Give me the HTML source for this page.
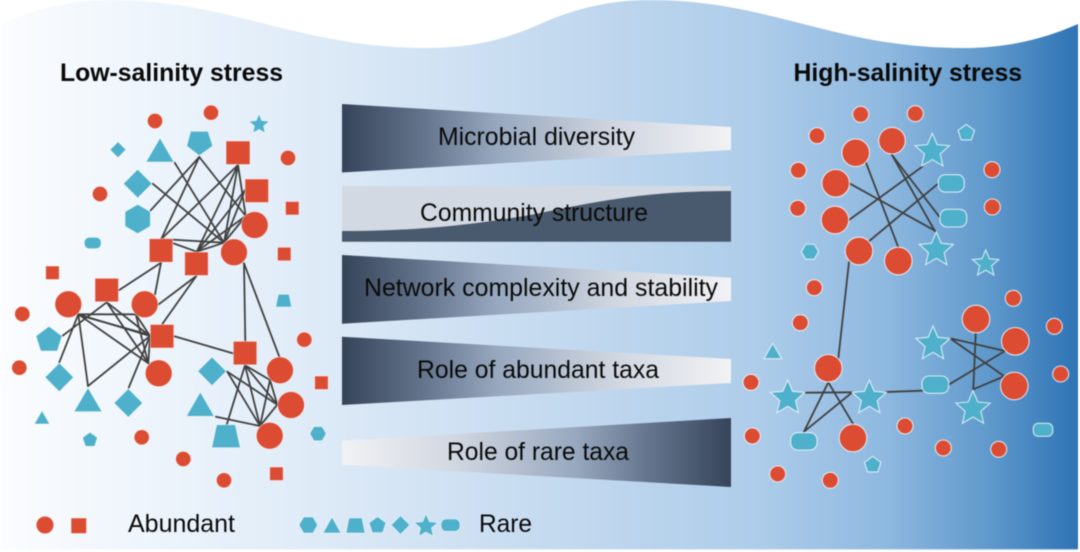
<!DOCTYPE html>
<html><head><meta charset="utf-8"><title>Salinity stress diagram</title>
<style>
html,body{margin:0;padding:0;background:#fff;width:1080px;height:552px;overflow:hidden}
svg{display:block;filter:blur(.4px)}
text{font-family:"Liberation Sans",sans-serif;font-size:24.6px;fill:#0a0a0a}
.r{fill:#dc4c33}.t{fill:#4eb0ca}
.L{stroke:#fff;stroke-opacity:.6;stroke-width:.8}
.R{stroke:#eef5fb;stroke-opacity:.85;stroke-width:1.1}
.ln line{stroke:#404040;stroke-width:1.8;stroke-linecap:round}
</style></head><body>
<svg width="1080" height="552" viewBox="0 0 1080 552" xmlns="http://www.w3.org/2000/svg">
<defs>
<linearGradient id="bg" x1="0" x2="1" y1="0" y2="0">
<stop offset="0" stop-color="#fbfdff"/><stop offset=".25" stop-color="#e3eef9"/><stop offset=".5" stop-color="#c6dbf0"/><stop offset=".7" stop-color="#aecdea"/><stop offset=".82" stop-color="#8fb9e0"/><stop offset=".92" stop-color="#5e98cb"/><stop offset="1" stop-color="#2e73b5"/>
</linearGradient>
<linearGradient id="dl" x1="0" x2="1" y1="0" y2="0">
<stop offset="0" stop-color="#36445a"/><stop offset=".22" stop-color="#66778f"/><stop offset=".4" stop-color="#97a8bf"/><stop offset=".7" stop-color="#d0d6e0"/><stop offset="1" stop-color="#f1f2f4"/>
</linearGradient>
<linearGradient id="ld" x1="0" x2="1" y1="0" y2="0">
<stop offset="0" stop-color="#f1f2f4"/><stop offset=".3" stop-color="#d0d6e0"/><stop offset=".6" stop-color="#97a8bf"/><stop offset=".78" stop-color="#66778f"/><stop offset="1" stop-color="#36445a"/>
</linearGradient>
<polygon id="star" vector-effect="non-scaling-stroke" points="0,-1 .27,-.37 .951,-.309 .437,.142 .588,.809 0,.46 -.588,.809 -.437,.142 -.951,-.309 -.27,-.37"/>
<polygon id="pent" vector-effect="non-scaling-stroke" points="0,-1 .951,-.309 .588,.809 -.588,.809 -.951,-.309"/>
<polygon id="hexf" vector-effect="non-scaling-stroke" points="1,0 .5,.866 -.5,.866 -1,0 -.5,-.866 .5,-.866"/>
<polygon id="hexp" vector-effect="non-scaling-stroke" points="0,-1 .866,-.5 .866,.5 0,1 -.866,.5 -.866,-.5"/>
<polygon id="dia" vector-effect="non-scaling-stroke" points="0,-1 1,0 0,1 -1,0"/>
</defs>
<rect width="1080" height="552" fill="#fff"/>
<path d="M0 24 C36 8 72 0 110 0 C230 0 300 48 427 48 C470 48 505 40 540 24 C576 8 612 0 650 0 C770 0 835 48 962 48 C1005 48 1042 40 1078 24 L1078 550 L0 550 Z" fill="url(#bg)"/>
<rect x="0" y="549" width="1080" height="3" fill="#fff" fill-opacity=".6"/>

<text x="60" y="81" style="font-weight:bold" textLength="223" lengthAdjust="spacingAndGlyphs">Low-salinity stress</text>
<text x="793.5" y="81" style="font-weight:bold" textLength="228.5" lengthAdjust="spacingAndGlyphs">High-salinity stress</text>

<!-- bars -->
<polygon points="342,104 731,127 731,150 342,172.5" fill="url(#dl)"/>
<rect x="342" y="186" width="389" height="55.7" fill="#d3d9e2"/>
<path d="M342 231 C420 231 470 225 530 215 C590 203 640 191 731 191 L731 241.7 L342 241.7 Z" fill="#4a5a6e"/>
<polygon points="342,255 731,277.7 731,301 342,323.7" fill="url(#dl)"/>
<polygon points="342,336.7 731,359 731,383 342,405" fill="url(#dl)"/>
<polygon points="342,440.7 731,418 731,487 342,464.7" fill="url(#ld)"/>
<text x="438" y="145" textLength="197" lengthAdjust="spacingAndGlyphs">Microbial diversity</text>
<text x="420" y="221" textLength="228" lengthAdjust="spacingAndGlyphs">Community structure</text>
<text x="364" y="296" textLength="354" lengthAdjust="spacingAndGlyphs">Network complexity and stability</text>
<text x="417" y="378" textLength="242" lengthAdjust="spacingAndGlyphs">Role of abundant taxa</text>
<text x="447" y="460" textLength="182" lengthAdjust="spacingAndGlyphs">Role of rare taxa</text>

<!-- lines -->
<g class="ln">
<line x1="174.7" y1="162.7" x2="224" y2="242.7"/><line x1="152.7" y1="183.7" x2="224" y2="242.7"/><line x1="150.7" y1="210.3" x2="199.3" y2="157"/><line x1="199.3" y1="157" x2="161.3" y2="239"/><line x1="199.3" y1="157" x2="245.7" y2="216"/>
<line x1="238" y1="165" x2="161.3" y2="239"/><line x1="238" y1="165" x2="196.7" y2="251.7"/><line x1="238" y1="165" x2="224" y2="242.7"/><line x1="238" y1="165" x2="245.7" y2="216"/><line x1="245" y1="190" x2="196.7" y2="251.7"/><line x1="245" y1="190" x2="224" y2="242.7"/><line x1="245.7" y1="216" x2="196.7" y2="251.7"/><line x1="245.7" y1="216" x2="224" y2="242.7"/>
<line x1="161.3" y1="239" x2="224" y2="242.7"/><line x1="161.3" y1="239" x2="196.7" y2="251.7"/><line x1="196.7" y1="251.7" x2="224" y2="242.7"/>
<line x1="161" y1="262.7" x2="119.3" y2="290"/><line x1="161" y1="262.7" x2="155" y2="294.3"/><line x1="196.3" y1="276" x2="158.7" y2="304.3"/><line x1="196.3" y1="276" x2="162.3" y2="324"/><line x1="244" y1="263.3" x2="245.3" y2="341.3"/><line x1="244" y1="263.3" x2="279.3" y2="356.7"/><line x1="174.3" y1="336.3" x2="232.7" y2="353.3"/>
<line x1="78.3" y1="314.3" x2="135.7" y2="314.3"/><line x1="78.3" y1="314.3" x2="150" y2="336"/><line x1="82" y1="316" x2="150" y2="335"/><line x1="78.3" y1="314.3" x2="148.3" y2="363.3"/><line x1="78.3" y1="314.3" x2="59.3" y2="362.3"/><line x1="78.3" y1="314.3" x2="88" y2="386"/><line x1="106.7" y1="302.3" x2="62.7" y2="335.7"/><line x1="106.7" y1="302.3" x2="150" y2="336"/><line x1="106.7" y1="302.3" x2="148.3" y2="363.3"/><line x1="135.7" y1="314.3" x2="150" y2="336"/><line x1="135.7" y1="314.3" x2="148.3" y2="363.3"/><line x1="150" y1="336" x2="88" y2="386"/><line x1="150" y1="336" x2="128.7" y2="387.7"/><line x1="150" y1="336" x2="148.3" y2="363.3"/>
<line x1="245" y1="365.3" x2="270" y2="380"/><line x1="245" y1="365.3" x2="277.3" y2="404.7"/><line x1="245" y1="365.3" x2="260" y2="426"/><line x1="245" y1="365.3" x2="226.7" y2="424.7"/><line x1="270" y1="380" x2="277.3" y2="404.7"/><line x1="270" y1="380" x2="260" y2="426"/><line x1="277.3" y1="404.7" x2="260" y2="426"/><line x1="227.3" y1="371.7" x2="277.3" y2="404.7"/><line x1="227.3" y1="371.7" x2="260" y2="426"/><line x1="216" y1="416.7" x2="260" y2="426"/>
<line x1="866" y1="162.7" x2="898.3" y2="247.3"/><line x1="892" y1="155" x2="935" y2="231.3"/><line x1="892" y1="155" x2="939.3" y2="216.7"/><line x1="850" y1="183.7" x2="935" y2="230.7"/><line x1="849" y1="220" x2="922.3" y2="166.7"/><line x1="869.3" y1="241" x2="937.3" y2="184.3"/><line x1="849" y1="262" x2="838.3" y2="358.3"/>
<line x1="805" y1="392.7" x2="852.3" y2="392.3"/><line x1="828.3" y1="382.3" x2="804" y2="431.7"/><line x1="828.3" y1="382.3" x2="853.3" y2="424.3"/><line x1="852.3" y1="392.3" x2="804" y2="431.7"/><line x1="886" y1="392" x2="922.3" y2="390.7"/><line x1="950" y1="338.3" x2="1005" y2="351"/><line x1="950" y1="338.3" x2="1005" y2="376.7"/><line x1="975.7" y1="333.3" x2="973.3" y2="389.3"/><line x1="973.3" y1="389.3" x2="1005" y2="376"/><line x1="949.3" y1="384.3" x2="1005" y2="351"/>
</g>

<!-- left shapes -->
<g class="L">
<g class="r">
<circle cx="155" cy="121" r="7.6"/><circle cx="211" cy="112.7" r="7.6"/><circle cx="288" cy="158" r="7.6"/><circle cx="100" cy="194" r="7.6"/>
<circle cx="254.7" cy="225" r="13.4"/><circle cx="234" cy="252.3" r="13.4"/>
<rect x="226" y="141" width="24" height="23.5"/><rect x="245" y="179" width="23.5" height="23.5"/><rect x="285.5" y="201.5" width="13.5" height="13.5"/><rect x="277.5" y="247.3" width="13.5" height="13.5"/><rect x="184.7" y="252" width="23.5" height="23.5"/><rect x="149.3" y="238.7" width="23.5" height="23.5"/><rect x="45.7" y="266" width="13.5" height="13.5"/>
<rect x="95" y="278.3" width="23.5" height="23.5"/><circle cx="68.3" cy="304.3" r="13.4"/><circle cx="144.7" cy="304.3" r="13.4"/><circle cx="22.3" cy="314" r="7.6"/><rect x="150.3" y="324.5" width="23.5" height="23.5"/><circle cx="19.3" cy="367.7" r="7.6"/><circle cx="158.7" cy="373.3" r="13.4"/>
<circle cx="141.7" cy="437.3" r="7.6"/><circle cx="183.3" cy="459" r="7.6"/><circle cx="224" cy="480.3" r="7.6"/><rect x="269.7" y="467" width="13.5" height="13.5"/>
<circle cx="269.7" cy="435.7" r="13.4"/><circle cx="291" cy="405" r="13.4"/><circle cx="280" cy="370.3" r="13.4"/><rect x="233.3" y="341.3" width="23.5" height="23.5"/><rect x="314.7" y="376" width="13.5" height="13.5"/><circle cx="304.3" cy="339.7" r="7.6"/>
</g>
<g class="t">
<use href="#star" transform="translate(259,124.5) scale(10.5)"/>
<use href="#dia" transform="translate(118,149.7) scale(8)"/>
<polygon points="160,138 146,162 174,162"/>
<polygon points="190.7,131.3 208,131.3 212.7,146 199.3,155.7 186.7,146"/>
<use href="#dia" transform="translate(137.7,183.7) scale(14.3)"/>
<use href="#hexp" transform="translate(137.7,219) scale(14.6)"/>
<rect x="84.3" y="237.3" width="16.8" height="11.4" rx="5"/>
<polygon points="49,326.3 62,336 57.3,351 40.7,351 36,336"/>
<use href="#dia" transform="translate(59.3,377.3) scale(14.3)"/>
<polygon points="88,387.7 74,411.7 102,411.7"/>
<use href="#dia" transform="translate(128.3,403) scale(14.3)"/>
<polygon points="42,410.7 34.3,424 49.7,424"/>
<use href="#pent" transform="translate(90,440) scale(7.8)"/>
<use href="#hexf" transform="translate(318,433.7) scale(8.2)"/>
<use href="#dia" transform="translate(212,371.3) scale(14.3)"/>
<polygon points="200.3,392 186.3,416.3 214.3,416.3"/>
<polygon points="216.7,424.7 235.3,424.7 240.3,447.7 211.7,447.7"/>
<polygon points="278.3,294.3 289,294.3 291.7,307 275.7,307"/>
</g>
</g>

<!-- right shapes -->
<g class="R">
<g class="r">
<circle cx="860.7" cy="114.3" r="8"/><circle cx="915.3" cy="113.7" r="8"/><circle cx="817" cy="135.7" r="8"/><circle cx="798.3" cy="170.3" r="8"/><circle cx="797.7" cy="208.3" r="8"/><circle cx="992" cy="169.7" r="8"/><circle cx="992.3" cy="207" r="8"/><circle cx="814.3" cy="287.7" r="8"/>
<circle cx="855.7" cy="152.7" r="13.8"/><circle cx="892" cy="140.7" r="13.3"/><circle cx="835.7" cy="183.3" r="13.8"/><circle cx="835" cy="220" r="13.8"/><circle cx="859" cy="251" r="13.8"/><circle cx="898.3" cy="261" r="13.8"/>
<circle cx="800.3" cy="322.7" r="8"/><circle cx="751" cy="382.3" r="8"/><circle cx="752.3" cy="436" r="8"/><circle cx="777.7" cy="474" r="8"/><circle cx="830.3" cy="480.3" r="8"/><circle cx="905" cy="426" r="8"/><circle cx="943.3" cy="448" r="8"/><circle cx="998.7" cy="449.3" r="8"/><circle cx="1013.3" cy="298.3" r="8"/><circle cx="1054.3" cy="326.3" r="8"/><circle cx="1060.7" cy="374" r="8"/>
<circle cx="828.3" cy="368.3" r="13.8"/><circle cx="853" cy="438" r="13.8"/><circle cx="976" cy="319" r="13.8"/><circle cx="1015.3" cy="341.3" r="13.8"/><circle cx="1014.3" cy="386" r="13.8"/>
</g>
<g class="t">
<use href="#star" transform="translate(932.3,151.3) scale(18)"/>
<use href="#star" transform="translate(936.3,250) scale(18)"/>
<use href="#star" transform="translate(985.7,263.8) scale(13.8)"/>
<rect x="938.3" y="174.7" width="26" height="17.4" rx="7"/>
<rect x="940" y="209.3" width="26.7" height="17.7" rx="7"/>
<use href="#pent" transform="translate(966.3,133) scale(8.6)"/>
<use href="#hexf" transform="translate(810,251.7) scale(8.6)"/>
<polygon points="772.7,343.3 764,358.7 781.7,358.7"/>
<use href="#star" transform="translate(787.7,398) scale(18)"/>
<use href="#star" transform="translate(869.3,398) scale(18)"/>
<use href="#star" transform="translate(933,344) scale(18)"/>
<use href="#star" transform="translate(973,408.7) scale(18)"/>
<rect x="790.7" y="432.7" width="26.3" height="17.3" rx="7"/>
<rect x="922" y="376" width="26.7" height="17.3" rx="7"/>
<rect x="1033.3" y="423.3" width="19.4" height="13" rx="5"/>
<use href="#pent" transform="translate(872.7,465) scale(8.6)"/>
</g>
</g>

<!-- legend -->
<g class="L">
<circle class="r" cx="45" cy="525" r="8.8"/>
<rect class="r" x="71" y="518" width="15.5" height="15.5"/>
<use class="t" href="#hexf" transform="translate(308.3,525) scale(9.3)"/>
<polygon class="t" points="332,517 323,533 341,533"/>
<polygon class="t" points="349,518 362,518 365,533 346,533"/>
<use class="t" href="#pent" transform="translate(377.5,525.5) scale(8.8)"/>
<use class="t" href="#dia" transform="translate(400.5,525) scale(9.3)"/>
<use class="t" href="#star" transform="translate(426,526.3) scale(12.3)"/>
<rect class="t" x="441" y="519" width="19" height="12.3" rx="5"/>
</g>
<text x="128" y="532" textLength="107" lengthAdjust="spacingAndGlyphs">Abundant</text>
<text x="479" y="532" textLength="53" lengthAdjust="spacingAndGlyphs">Rare</text>
</svg>
</body></html>
